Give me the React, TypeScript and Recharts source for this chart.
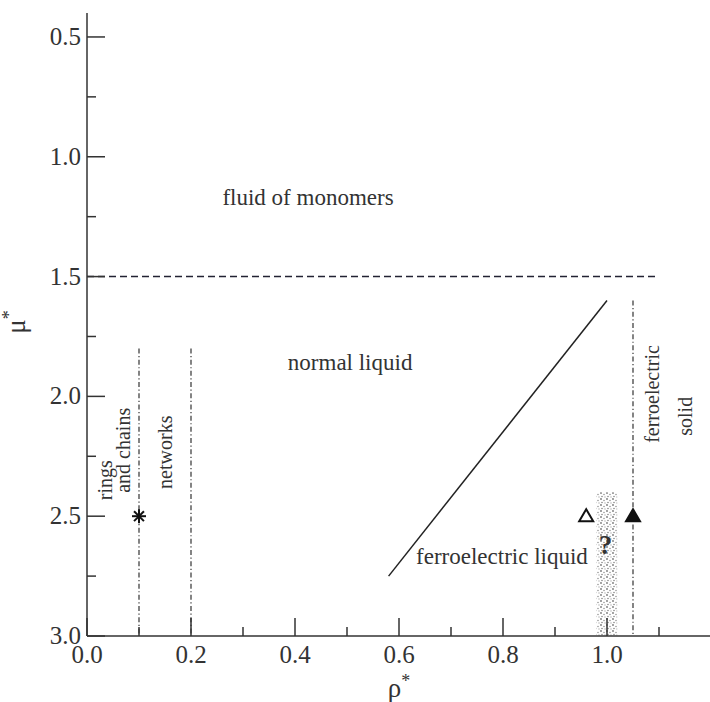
import { ScatterChart, Scatter, XAxis, YAxis, ReferenceLine, ReferenceArea, Label } from "recharts";

const xTicks = [0, 0.1, 0.2, 0.3, 0.4, 0.5, 0.6, 0.7, 0.8, 0.9, 1.0, 1.1, 1.2];
const yTicks = [0.5, 0.75, 1.0, 1.25, 1.5, 1.75, 2.0, 2.25, 2.5, 2.75, 3.0];

// phase boundaries
const monomerBoundary = [{ x: 0, y: 1.5 }, { x: 1.1, y: 1.5 }];
const ferroBoundary = [{ x: 0.58, y: 2.75 }, { x: 1.0, y: 1.6 }];
const ringsBoundary = [{ x: 0.1, y: 1.8 }, { x: 0.1, y: 3.0 }];
const networksBoundary = [{ x: 0.2, y: 1.8 }, { x: 0.2, y: 3.0 }];
const solidBoundary = [{ x: 1.05, y: 1.6 }, { x: 1.05, y: 3.0 }];

// state points
const starPoints = [{ x: 0.1, y: 2.5 }];
const openTriangles = [{ x: 0.96, y: 2.5 }];
const filledTriangles = [{ x: 1.05, y: 2.5 }];

// uncertain region (x from, x to, y from, y to)
const uncertainX = [0.98, 1.02];
const uncertainY = [2.4, 3.0];

const horizontalNotes = [
  { x: 0.425, y: 1.17, text: "fluid of monomers" },
  { x: 0.506, y: 1.86, text: "normal liquid" },
  { x: 0.798, y: 2.67, text: "ferroelectric liquid" },
];
const questionNote = [{ x: 0.997, y: 2.62, text: "?" }];
const verticalNotes = [
  { x: 0.035, y: 2.35, text: "rings" },
  { x: 0.069, y: 2.225, text: "and chains" },
  { x: 0.15, y: 2.233, text: "networks" },
  { x: 1.087, y: 1.99, text: "ferroelectric" },
  { x: 1.15, y: 2.083, text: "solid" },
];

const FONT = "'Liberation Serif', 'Times New Roman', 'DejaVu Serif', serif";
const INK = "#333";

const txt = (size: number, weight = "normal") => ({ fontFamily: FONT, fontSize: size, fontWeight: weight as any });

const makeTick = (side: string) => (props: any) => {
  const { x, y, payload } = props;
  const v = payload.value;
  const isX = side === "bottom" || side === "top";
  const major = isX ? Math.round(v * 10) % 2 === 0 : Math.round(v * 4) % 2 === 0;
  const len = major ? 18 : 9;
  let line;
  if (side === "bottom") line = <line x1={x} y1={y} x2={x} y2={y - len} stroke={INK} strokeWidth={1.5} />;
  else if (side === "top") line = <line x1={x} y1={y} x2={x} y2={y + len} stroke={INK} strokeWidth={1.5} />;
  else if (side === "left") line = <line x1={x} y1={y} x2={x + len} y2={y} stroke={INK} strokeWidth={1.5} />;
  else line = <line x1={x} y1={y} x2={x - len} y2={y} stroke={INK} strokeWidth={1.5} />;
  let label = null;
  if (major && side === "bottom" && v < 1.15) {
    label = (
      <text x={x} y={y + 27} textAnchor="middle" style={txt(25)} fill={INK}>
        {v.toFixed(1)}
      </text>
    );
  }
  if (major && side === "left") {
    label = (
      <text x={x - 6} y={y + 8} textAnchor="end" style={txt(25)} fill={INK}>
        {v.toFixed(1)}
      </text>
    );
  }
  return (
    <g>
      {line}
      {label}
    </g>
  );
};

const starShape = (p: any) => {
  const r = 7;
  return (
    <g stroke="#111" strokeWidth={2}>
      {[0, 45, 90, 135].map((a) => {
        const c = Math.cos((a * Math.PI) / 180) * r;
        const s = Math.sin((a * Math.PI) / 180) * r;
        return <line key={a} x1={p.cx - c} y1={p.cy - s} x2={p.cx + c} y2={p.cy + s} />;
      })}
    </g>
  );
};

const triangle = (filled: boolean) => (p: any) => (
  <polygon
    points={`${p.cx},${p.cy - 7} ${p.cx - 7},${p.cy + 5} ${p.cx + 7},${p.cy + 5}`}
    fill={filled ? "#111" : "#fff"}
    stroke="#111"
    strokeWidth={2}
  />
);

const noteShape = (size: number, angle: number, weight = "normal") => (p: any) => (
  <text
    x={p.cx}
    y={p.cy}
    textAnchor="middle"
    dominantBaseline="central"
    style={txt(size, weight)}
    fill={INK}
    transform={angle ? `rotate(${angle} ${p.cx} ${p.cy})` : undefined}
  >
    {p.payload.text}
  </text>
);

const stipple = (p: any) => (
  <g>
    <defs>
      <pattern id="dots" width="6" height="6" patternUnits="userSpaceOnUse">
        <circle cx="1" cy="1" r="0.9" fill="#777" />
        <circle cx="4" cy="2.5" r="0.8" fill="#999" />
        <circle cx="2" cy="4.5" r="0.8" fill="#888" />
        <circle cx="5" cy="5" r="0.7" fill="#aaa" />
      </pattern>
    </defs>
    <rect x={p.x} y={p.y} width={p.width} height={p.height} fill="url(#dots)" />
  </g>
);

export default function App() {
  return (
    <div style={{ position: "absolute", left: 0, top: 0, width: 710, height: 702, overflow: "hidden", background: "#fff" }}>
      <ScatterChart width={720} height={702} margin={{ top: 13, right: 9, bottom: 0, left: 0 }}>
        <XAxis
          dataKey="x"
          type="number"
          domain={[0, 1.2]}
          ticks={xTicks}
          interval={0}
          allowDataOverflow
          height={66}
          tickSize={0}
          tickMargin={0}
          tickLine={false}
          tick={makeTick("bottom")}
          axisLine={{ stroke: INK, strokeWidth: 1.5 }}
        >
          <Label
            content={(p: any) => (
              <text x={p.viewBox.x + p.viewBox.width / 2} y={697} textAnchor="middle" style={txt(27)} fill={INK}>
                ρ<tspan dy={-10} style={txt(18)}>*</tspan>
              </text>
            )}
          />
        </XAxis>
        <XAxis
          xAxisId="top"
          orientation="top"
          dataKey="x"
          type="number"
          domain={[0, 1.2]}
          ticks={xTicks}
          interval={0}
          allowDataOverflow
          height={0}
          tickSize={0}
          tickMargin={0}
          tickLine={false}
          tick={makeTick("top")}
          axisLine={{ stroke: INK, strokeWidth: 1.5 }}
        />
        <YAxis
          dataKey="y"
          type="number"
          domain={[0.4, 3.0]}
          reversed
          ticks={yTicks}
          interval={0}
          allowDataOverflow
          width={87}
          tickSize={0}
          tickMargin={0}
          tickLine={false}
          tick={makeTick("left")}
          axisLine={{ stroke: INK, strokeWidth: 1.5 }}
        >
          <Label
            content={() => (
              <text x={25} y={322} textAnchor="middle" style={txt(27)} fill={INK} transform="rotate(-90 25 322)">
                μ<tspan dy={-10} style={txt(18)}>*</tspan>
              </text>
            )}
          />
        </YAxis>
        <YAxis
          yAxisId="right"
          orientation="right"
          dataKey="y"
          type="number"
          domain={[0.4, 3.0]}
          reversed
          ticks={yTicks}
          interval={0}
          allowDataOverflow
          width={0}
          tickSize={0}
          tickMargin={0}
          tickLine={false}
          tick={makeTick("right")}
          axisLine={{ stroke: INK, strokeWidth: 1.5 }}
        />

        <ReferenceArea
          x1={uncertainX[0]}
          x2={uncertainX[1]}
          y1={uncertainY[0]}
          y2={uncertainY[1]}
          shape={stipple}
        />
        <ReferenceLine segment={monomerBoundary} stroke="#223" strokeWidth={1.5} strokeDasharray="7 4" />
        <ReferenceLine segment={ferroBoundary} stroke="#222" strokeWidth={1.5} />
        <ReferenceLine segment={ringsBoundary} stroke="#333" strokeWidth={1.2} strokeDasharray="5 2.5 1.2 2.5" />
        <ReferenceLine segment={networksBoundary} stroke="#333" strokeWidth={1.2} strokeDasharray="5 2.5 1.2 2.5" />
        <ReferenceLine segment={solidBoundary} stroke="#333" strokeWidth={1.2} strokeDasharray="5 2.5 1.2 2.5" />

        <Scatter data={starPoints} shape={starShape} isAnimationActive={false} />
        <Scatter data={openTriangles} shape={triangle(false)} isAnimationActive={false} />
        <Scatter data={filledTriangles} shape={triangle(true)} isAnimationActive={false} />
        <Scatter data={horizontalNotes} shape={noteShape(23, 0)} isAnimationActive={false} />
        <Scatter data={questionNote} shape={noteShape(27, 0, "bold")} isAnimationActive={false} />
        <Scatter data={verticalNotes} shape={noteShape(20, -90)} isAnimationActive={false} />
      </ScatterChart>
    </div>
  );
}
